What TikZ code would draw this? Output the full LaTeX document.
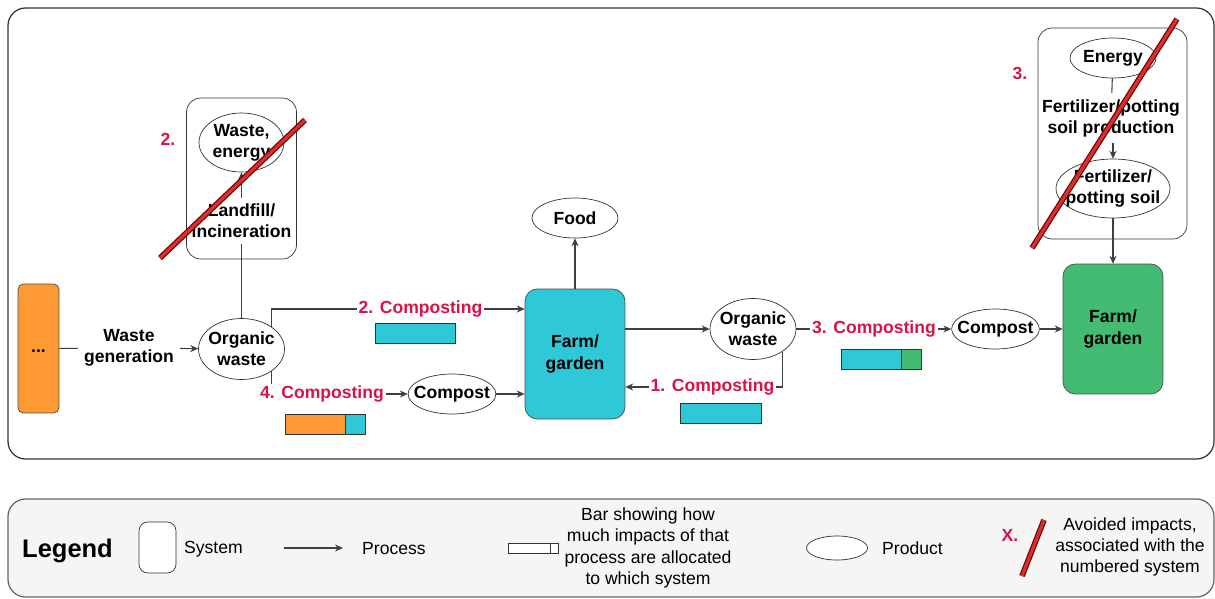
\documentclass[tikz,border=0pt]{standalone}
\usepackage{fontspec}
\setmainfont{Liberation Sans}
\usetikzlibrary{shapes.geometric, arrows.meta}

\definecolor{orangebox}{RGB}{255,153,51}
\definecolor{cyanbox}{RGB}{46,200,214}
\definecolor{greenbox}{RGB}{68,187,115}
\definecolor{procred}{RGB}{215,20,70}
\definecolor{strikered}{RGB}{214,48,49}
\definecolor{legendgray}{RGB}{245,245,245}

\begin{document}
\begin{tikzpicture}[x=0.02cm, y=-0.02cm,
  every node/.style={font=\bfseries\fontsize{10}{12}\selectfont, align=center},
  product/.style={ellipse, draw=black!80, fill=white, inner xsep=-4pt, inner ysep=0pt, minimum width=1.72cm, minimum height=0.8cm},
  system/.style={rectangle, draw=black!80, rounded corners=8pt},
  farm/.style={rectangle, draw=black!70, rounded corners=7pt, minimum width=2cm, minimum height=2.6cm},
  proc/.style={text=procred, inner sep=1pt},
  flow/.style={draw=black!75, line width=0.6pt},
  arr/.style={flow, -{Stealth[length=4.5pt, width=4pt]}},
  strike/.style={line width=3.2pt, draw=red!45!black},
  strikein/.style={line width=1.8pt, draw=strikered},
  legtext/.style={font=\fontsize{10}{12.2}\selectfont}
]
\useasboundingbox (0,0) rectangle (1215,599);

% Frames
\draw[black!80, line width=0.7pt, rounded corners=10pt] (8,8) rectangle (1214,459);
\draw[black!60, fill=legendgray, line width=0.7pt, rounded corners=10pt] (8,499) rectangle (1214,597);

% Systems
\node[system, minimum width=2.2cm, minimum height=3.22cm] (landsys) at (241.5,178.5) {};
\node[system, minimum width=2.98cm, minimum height=4.22cm] (fertsys) at (1112.5,133.5) {};

% Waste generation
\node[draw=black!70, fill=orangebox, rounded corners=3pt, minimum width=0.82cm, minimum height=2.58cm] (dots) at (38.5,348.5) {\strut...};
\node (wgen) at (129,348) {Waste\\generation};
\node[product, minimum height=1.22cm] (ow1) at (241.5,349) {Organic\\waste};
\draw[flow] (dots) -- (wgen);
\draw[arr] (wgen) -- (ow1);

% Landfill/incineration
\node[product, minimum width=1.7cm, minimum height=1.18cm] (wasteen) at (241.5,142.5) {Waste,\\energy};
\node (landfill) at (241.5,221) {Landfill/\\incineration};
\draw[flow] (ow1) -- (landfill);
\draw[arr] (landfill) -- (wasteen);

% Composting 2 and 4
\node[proc] (comp2) at (420.5,309) {2. Composting};
\node[proc] (comp4) at (322,394) {4. Composting};
\node[product] (compost1) at (452,394) {Compost};
\node[farm, fill=cyanbox] (farm1) at (575,354) {Farm/\\garden};
\node[product] (food) at (575,218) {Food};
\draw[flow] (ow1.37) |- (comp2);
\draw[arr] (comp2) -- (comp2 -| farm1.west);
\draw[flow] (ow1.-37) -- (ow1.-37 |- comp4.north);
\draw[arr] (comp4) -- (compost1);
\draw[arr] (compost1) -- (compost1 -| farm1.west);
\draw[arr] (farm1) -- (food);

% Composting 1 and 3
\node[product, minimum height=1.22cm] (ow2) at (753,329) {Organic\\waste};
\node[proc] (comp1) at (712.5,387) {1. Composting};
\node[proc] (comp3) at (874,329) {3. Composting};
\node[product] (compost2) at (995.5,329) {Compost};
\node[farm, fill=greenbox] (farm2) at (1113,329) {Farm/\\garden};
\draw[arr] (farm1.east |- ow2) -- (ow2);
\draw[flow] (ow2.-38) |- (comp1);
\draw[arr] (comp1) -- (comp1 -| farm1.east);
\draw[flow] (ow2) -- (comp3);
\draw[arr] (comp3) -- (compost2);
\draw[arr] (compost2) -- (farm2);

% Fertilizer/potting soil
\node[product] (energy) at (1113,58) {Energy};
\node (fertprod) at (1111,118) {Fertilizer/potting\\soil production};
\node[product, minimum width=2.26cm, minimum height=1.18cm] (fert) at (1113,188.5) {Fertilizer/\\potting soil};
\draw[flow] (energy) -- (fertprod);
\draw[arr] (fertprod.south -| fert) -- (fert);
\draw[arr] (fert) -- (farm2);

% Allocation bars
\draw[black!80, fill=cyanbox] (375,323) rectangle (455,343);
\draw[black!80, fill=orangebox] (285,414) rectangle (345,434);
\draw[black!80, fill=cyanbox] (345,414) rectangle (365,434);
\draw[black!80, fill=cyanbox] (680,403) rectangle (761,423);
\draw[black!80, fill=cyanbox] (841,349) rectangle (901,369);
\draw[black!80, fill=greenbox] (901,349) rectangle (921,369);

% Avoided impacts
\draw[strike] (160,258) -- (305,120);
\draw[strikein] (160,258) -- (305,120);
\node[proc] (avoid2) at (168,139) {2.};
\draw[strike] (1032,248) -- (1177,19);
\draw[strikein] (1032,248) -- (1177,19);
\node[proc] (avoid3) at (1020,73) {3.};

% Legend
\node[font=\bfseries\fontsize{14.5}{17}\selectfont] (legend) at (67.5,551) {Legend};
\node[system, fill=white, rounded corners=5pt, minimum width=0.74cm, minimum height=1.02cm] (legsys) at (157.5,547.5) {};
\node[legtext, anchor=west] (legsystxt) at (178,549) {System};
\coordinate (procA) at (284,548);
\coordinate (procB) at (343,548);
\draw[arr] (procA) -- (procB);
\node[legtext, anchor=west] (legproc) at (356,549) {Process};
\draw[black!80, fill=white] (508,543) rectangle (558,553);
\draw[black!80] (550,543) -- (550,553);
\node[legtext] (legbar) at (648,548) {Bar showing how\\much impacts of that\\process are allocated\\to which system};
\node[product, minimum width=1.22cm, minimum height=0.48cm] (legprod) at (837,548) {};
\node[legtext, anchor=west] (legprodtxt) at (876,548) {Product};
\draw[strike] (1022,576) -- (1044,520);
\draw[strikein] (1022,576) -- (1044,520);
\node[proc] (legx) at (1010,535) {X.};
\node[legtext] (legavoid) at (1130,547) {Avoided impacts,\\associated with the\\numbered system};
\end{tikzpicture}
\end{document}
